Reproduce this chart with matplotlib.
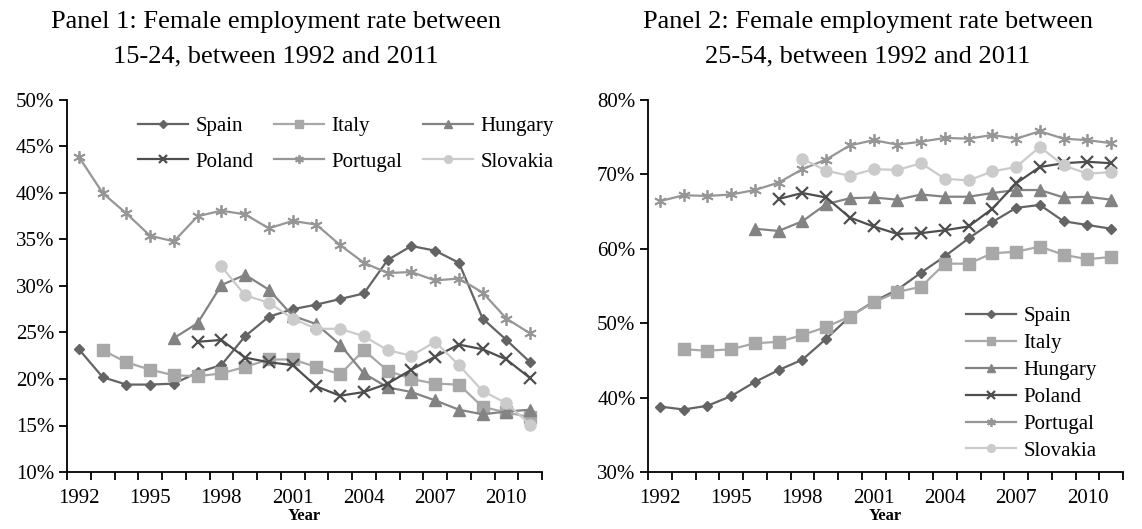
import numpy as np
import matplotlib
matplotlib.use("Agg")
import matplotlib.pyplot as plt

plt.rcParams['font.family'] = ['Liberation Serif', 'DejaVu Serif']

nan = np.nan
years = list(range(1992, 2012))

# Panel 1: ages 15-24
spain_1 = [23.2, 20.2, 19.4, 19.4, 19.5, 20.7, 21.5, 24.6, 26.7, 27.5,
           28.0, 28.6, 29.2, 32.8, 34.3, 33.8, 32.5, 26.5, 24.2, 21.8]
italy_1 = [nan, 23.1, 21.8, 21.0, 20.4, 20.3, 20.6, 21.3, 22.1, 22.1,
           21.3, 20.5, 23.1, 20.9, 20.0, 19.5, 19.4, 17.0, 16.4, 15.9]
hungary_1 = [nan, nan, nan, nan, 24.4, 26.0, 30.1, 31.2, 29.6, 26.8,
             25.9, 23.7, 20.6, 19.1, 18.6, 17.7, 16.7, 16.2, 16.5, 16.7]
poland_1 = [nan, nan, nan, nan, nan, 24.0, 24.2, 22.3, 21.8, 21.5,
            19.2, 18.2, 18.6, 19.5, 21.0, 22.4, 23.7, 23.2, 22.1, 20.1]
portugal_1 = [43.9, 40.0, 37.8, 35.4, 34.8, 37.5, 38.1, 37.7, 36.2, 37.0,
              36.6, 34.4, 32.5, 31.4, 31.5, 30.6, 30.8, 29.3, 26.5, 24.9]
slovakia_1 = [nan, nan, nan, nan, nan, nan, 32.1, 29.0, 28.2, 26.5,
              25.4, 25.4, 24.6, 23.1, 22.5, 24.0, 21.5, 18.7, 17.4, 15.1]

# Panel 2: ages 25-54
spain_2 = [38.8, 38.4, 38.9, 40.2, 42.1, 43.7, 45.1, 47.9, 50.9, 52.9,
           54.5, 56.8, 59.0, 61.4, 63.6, 65.5, 65.9, 63.7, 63.2, 62.7]
italy_2 = [nan, 46.5, 46.3, 46.5, 47.3, 47.5, 48.4, 49.5, 50.9, 52.8,
           54.2, 54.9, 58.0, 58.0, 59.4, 59.6, 60.3, 59.2, 58.6, 58.9]
hungary_2 = [nan, nan, nan, nan, 62.7, 62.4, 63.7, 66.0, 66.8, 66.9,
             66.6, 67.3, 67.0, 67.0, 67.5, 67.9, 67.9, 66.9, 67.0, 66.6]
poland_2 = [nan, nan, nan, nan, nan, 66.7, 67.5, 66.9, 64.2, 63.0,
            62.0, 62.1, 62.5, 63.0, 65.4, 68.8, 71.0, 71.5, 71.7, 71.5]
portugal_2 = [66.4, 67.2, 67.1, 67.3, 67.9, 68.9, 70.7, 72.0, 73.9, 74.6,
              74.0, 74.4, 74.9, 74.8, 75.3, 74.8, 75.8, 74.8, 74.6, 74.2]
slovakia_2 = [nan, nan, nan, nan, nan, nan, 72.1, 70.5, 69.8, 70.7,
              70.6, 71.5, 69.4, 69.2, 70.4, 71.0, 73.7, 71.2, 70.1, 70.3]

countries = ["Spain", "Italy", "Hungary", "Poland", "Portugal", "Slovakia"]
colors = ["#646464", "#a8a8a8", "#838383", "#4e4e4e", "#969696", "#cbcbcb"]
markers = ["D", "s", "^", "x", (6, 2, 0), "o"]
msizes = [5.5, 8, 8, 8, 9, 8]
mews = [1, 1, 1, 1.6, 1.3, 1]

panel1 = [spain_1, italy_1, hungary_1, poland_1, portugal_1, slovakia_1]
panel2 = [spain_2, italy_2, hungary_2, poland_2, portugal_2, slovakia_2]

fig = plt.figure(figsize=(11.42, 5.29), dpi=100)
ax1 = fig.add_axes([67 / 1142, 57 / 529, 475 / 1142, 372 / 529])
ax2 = fig.add_axes([648 / 1142, 57 / 529, 475 / 1142, 372 / 529])

x = np.arange(len(years))


def draw(ax, data, ymin, ymax, ystep):
    lines = []
    for vals, name, c, m, ms, mw in zip(data, countries, colors, markers, msizes, mews):
        ln, = ax.plot(x, vals, color=c, marker=m, markersize=ms, markeredgewidth=mw,
                      markeredgecolor=c, markerfacecolor=c, linewidth=1.6, label=name)
        lines.append(ln)
    ax.set_xlim(-0.5, len(years) - 0.5)
    ax.set_ylim(ymin, ymax)
    yt = np.arange(ymin, ymax + 0.1, ystep)
    ax.set_yticks(yt)
    ax.set_yticklabels(["%d%%" % v for v in yt], fontsize=15)
    ax.set_xticks(np.arange(-0.5, len(years), 1))
    ax.set_xticklabels([])
    ax.set_xticks(x[::3], minor=True)
    ax.set_xticklabels([str(y) for y in years[::3]], minor=True, fontsize=15)
    ax.tick_params(axis='x', which='major', direction='out', length=6, width=1.3)
    ax.tick_params(axis='x', which='minor', length=0, pad=12)
    ax.tick_params(axis='y', direction='out', length=6, width=1.3, pad=3)
    for s in ['top', 'right']:
        ax.spines[s].set_visible(False)
    for s in ['left', 'bottom']:
        ax.spines[s].set_linewidth(1.3)
    ax.set_xlabel("Year", fontsize=12, fontweight='bold', labelpad=0)
    return lines


l1 = draw(ax1, panel1, 10, 50, 5)
l2 = draw(ax2, panel2, 30, 80, 10)

order = [0, 3, 1, 4, 2, 5]
ax1.legend([l1[i] for i in order], [countries[i] for i in order], ncol=3,
           loc='upper left', bbox_to_anchor=(0.11, 1.005), frameon=False,
           fontsize=15, handlelength=2.4, handletextpad=0.35, columnspacing=1.0,
           labelspacing=0.75, markerscale=0.7)
ax2.legend(l2, countries, loc='lower left', bbox_to_anchor=(0.63, -0.02),
           frameon=False, fontsize=15, handlelength=2.4, handletextpad=0.35,
           labelspacing=0.35, markerscale=0.7)

fig.text(276 / 1142, 1 - 39 / 529,
         "Panel 1: Female employment rate between\n15-24, between 1992 and 2011",
         ha='center', va='center', fontsize=19, linespacing=1.75)
fig.text(868 / 1142, 1 - 39 / 529,
         "Panel 2: Female employment rate between\n25-54, between 1992 and 2011",
         ha='center', va='center', fontsize=19, linespacing=1.75)

fig.savefig("out.png", dpi=100)
